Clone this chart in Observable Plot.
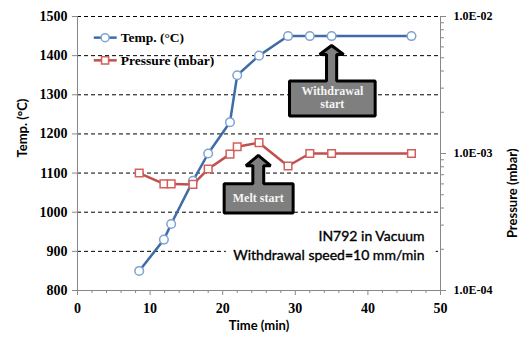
<!DOCTYPE html>
<html><head><meta charset="utf-8">
<script src="https://cdn.jsdelivr.net/npm/d3@7"></script>
<script src="https://cdn.jsdelivr.net/npm/@observablehq/plot@0.6"></script>
<style>body{margin:0;background:#fff}</style>
</head><body><div id="chart"></div>
<script>
// ---- data ----
const time     = [8.5, 11.9, 12.9, 15.9, 18, 21, 22, 25, 29, 32, 35, 46];
const temp     = [850, 930, 970, 1080, 1150, 1230, 1350, 1400, 1450, 1450, 1450, 1450];
const pressure = [7.2e-4, 6.0e-4, 6.0e-4, 5.95e-4, 7.7e-4, 9.9e-4, 1.12e-3, 1.2e-3, 8.1e-4, 1.0e-3, 1.0e-3, 1.0e-3];

const tempTicks = [800, 900, 1000, 1100, 1200, 1300, 1400, 1500];
const timeTicks = [0, 10, 20, 30, 40, 50];
const timeMinorTicks = [2,4,6,8,12,14,16,18,22,24,26,28,32,34,36,38,42,44,46,48];
const pressureTicks = [1e-4, 1e-3, 1e-2];
const pressureTickLabels = ["1.0E-04", "1.0E-03", "1.0E-02"];
const pressureMinorTicks = [2e-4,3e-4,4e-4,5e-4,6e-4,7e-4,8e-4,9e-4,2e-3,3e-3,4e-3,5e-3,6e-3,7e-3,8e-3,9e-3];

const seriesNames = ["Temp. (\u00B0C)", "Pressure (mbar)"];
const noteLines = ["IN792 in Vacuum", "Withdrawal speed=10 mm/min"];

// secondary (log) axis mapped onto the primary temperature range
const P_LO = 1e-4, P_HI = 1e-2, T_LO = 800, T_HI = 1500;
const pToY = p => T_LO + (Math.log10(p) - Math.log10(P_LO)) / (Math.log10(P_HI) - Math.log10(P_LO)) * (T_HI - T_LO);

const tempData = time.map((t, i) => ({time: t, temp: temp[i]}));
const pressData = time.map((t, i) => ({time: t, y: pToY(pressure[i])}));
const rightLabel = new Map(pressureTicks.map((p, i) => [pToY(p), pressureTickLabels[i]]));

// annotation shapes (in data units)
function arrowBox(bx1, bx2, by1, by2, cx, stemHalf, headHalf, headBase, tip) {
  return [
    [bx1, by1], [bx1, by2], [cx - stemHalf, by2], [cx - stemHalf, headBase], [cx - headHalf, headBase],
    [cx, tip], [cx + headHalf, headBase], [cx + stemHalf, headBase], [cx + stemHalf, by2], [bx2, by2], [bx2, by1]
  ].map(([x, y]) => ({x, y}));
}
const withdrawalArrow = arrowBox(29.2, 41.0, 1246, 1335, 35, 0.7, 1.65, 1403, 1426);
const meltArrow = arrowBox(20.2, 29.7, 998, 1073, 24.9, 0.75, 1.7, 1119, 1145);

const blue = "#3f6ca6", blueMk = "#7ea3d2", red = "#c0504d", redMk = "#d2605d";
const serif = "Liberation Serif, Times New Roman, serif";
const sans = "Lato, Open Sans, sans-serif";

const legend = [
  {y: 1446, stroke: blue, mk: blueMk, symbol: "circle", name: seriesNames[0]},
  {y: 1388, stroke: red, mk: redMk, symbol: "square", name: seriesNames[1]}
];

const axisFont = {fontFamily: serif, fontWeight: "bold", fill: "#000", stroke: "#888", label: null};

const chart = Plot.plot({
  width: 520, height: 339,
  marginLeft: 77, marginRight: 80, marginTop: 16, marginBottom: 49,
  x: {domain: [0, 50]},
  y: {domain: [T_LO, T_HI]},
  style: {fontFamily: serif, fontWeight: "bold", color: "#000", background: "#fff", overflow: "visible"},
  marks: [
    Plot.ruleY(tempTicks.filter(d => d > 800), {stroke: "#000", strokeWidth: 1, strokeDasharray: "4,3"}),
    Plot.rect([{x1: 20.5, x2: 49.4, y1: 815, y2: 940}], {x1: "x1", x2: "x2", y1: "y1", y2: "y2", fill: "#fff"}),
    Plot.ruleX([0, 50], {stroke: "#888"}),
    Plot.ruleY([800], {stroke: "#888"}),
    Plot.axisY({...axisFont, ticks: tempTicks, tickSize: 5, tickPadding: 5, fontSize: 14, tickFormat: d => String(d)}),
    Plot.axisY({...axisFont, anchor: "right", ticks: pressureTicks.map(pToY), tickSize: 5, tickPadding: 8, fontSize: 12, tickFormat: d => rightLabel.get(d)}),
    Plot.axisY({anchor: "right", ticks: pressureMinorTicks.map(pToY), tickSize: 3, label: null, stroke: "#888", tickFormat: () => ""}),
    Plot.axisX({...axisFont, ticks: timeTicks, tickSize: 5, tickPadding: 8, fontSize: 14, tickFormat: d => String(d)}),
    Plot.axisX({ticks: timeMinorTicks, tickSize: 3, label: null, stroke: "#888", tickFormat: () => ""}),
    // axis titles
    Plot.text(["Temp. (\u00B0C)"], {frameAnchor: "left", dx: -55, dy: 4, rotate: -90, fontFamily: sans, fontSize: 13, fontWeight: "bold"}),
    Plot.text(["Pressure (mbar)"], {frameAnchor: "right", dx: 72, dy: -5, rotate: -90, fontFamily: sans, fontSize: 13, fontWeight: "bold"}),
    Plot.text(["Time (min)"], {frameAnchor: "bottom", dy: 39, fontFamily: sans, fontSize: 13, fontWeight: "bold"}),
    // series
    Plot.line(tempData, {x: "time", y: "temp", stroke: blue, strokeWidth: 2.5}),
    Plot.dot(tempData, {x: "time", y: "temp", r: 4.3, fill: "#fff", stroke: blueMk, strokeWidth: 1.5}),
    Plot.line(pressData, {x: "time", y: "y", stroke: red, strokeWidth: 2.5}),
    Plot.dot(pressData, {x: "time", y: "y", symbol: "square", r: 4.3, fill: "#fff", stroke: redMk, strokeWidth: 1.5}),
    // legend
    Plot.link(legend, {x1: 2.24, x2: 5.4, y1: "y", y2: "y", stroke: "stroke", strokeWidth: 2.5}),
    Plot.dot(legend, {x: 3.8, y: "y", symbol: "symbol", r: 4, fill: "#fff", stroke: "mk", strokeWidth: 1.5}),
    Plot.text(legend, {x: 5.95, y: "y", text: "name", textAnchor: "start", fontSize: 13.5, fontFamily: serif, fontWeight: "bold"}),
    // note
    Plot.text([noteLines[0]], {x: 47.8, y: 937, textAnchor: "end", fontFamily: sans, fontSize: 14, fontWeight: "normal", fill: "#000", stroke: "#000", strokeWidth: 0.35}),
    Plot.text([noteLines[1]], {x: 47.8, y: 889, textAnchor: "end", fontFamily: sans, fontSize: 14, fontWeight: "normal", fill: "#000", stroke: "#000", strokeWidth: 0.35}),
    // arrows
    Plot.line(withdrawalArrow, {x: "x", y: "y", curve: "linear-closed", fill: "#7f7f7f", stroke: "#000", strokeWidth: 3, strokeLinejoin: "miter"}),
    Plot.line(meltArrow, {x: "x", y: "y", curve: "linear-closed", fill: "#7f7f7f", stroke: "#000", strokeWidth: 3, strokeLinejoin: "miter"}),
    Plot.text(["Withdrawal"], {x: 35.1, y: 1310, fontSize: 12, fill: "#f4f4f4", fontFamily: serif, fontWeight: "bold"}),
    Plot.text(["start"], {x: 35.1, y: 1276, fontSize: 12, fill: "#f4f4f4", fontFamily: serif, fontWeight: "bold"}),
    Plot.text(["Melt start"], {x: 24.9, y: 1035, fontSize: 12, fill: "#f4f4f4", fontFamily: serif, fontWeight: "bold"})
  ]
});
document.getElementById("chart").append(chart);
</script>
</body></html>
